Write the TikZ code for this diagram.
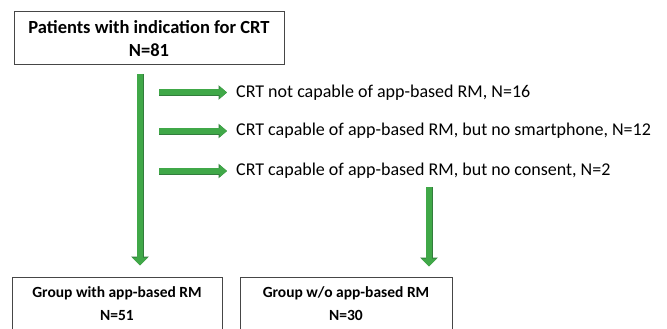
\documentclass[tikz,border=0pt]{standalone}
\usepackage{fontspec}
\setmainfont{Carlito}
\usetikzlibrary{arrows.meta}
\definecolor{arrowgreen}{RGB}{64,168,72}
\definecolor{arrowedge}{RGB}{50,125,60}
\definecolor{boxedge}{RGB}{70,70,70}
\begin{document}
\begin{tikzpicture}[x=1pt,y=-1pt,
  box/.style={draw=boxedge, line width=1pt, align=center, inner sep=0pt},
  titlefont/.style={font=\fontsize{18.5}{22.5}\selectfont\bfseries},
  groupfont/.style={font=\fontsize{15.5}{23}\selectfont\bfseries},
  lbl/.style={anchor=west, font=\fontsize{18}{20}\selectfont, inner sep=0pt},
  vgarrow/.style={draw=arrowgreen, line width=6pt,
    -{Triangle[length=8pt,width=15pt]},
    preaction={draw=arrowedge, line width=7pt, -{Triangle[length=9pt,width=17pt]}}},
  hgarrow/.style={draw=arrowgreen, line width=6pt,
    -{Triangle[length=7.5pt,width=12pt]},
    preaction={draw=arrowedge, line width=7pt, -{Triangle[length=8.5pt,width=14pt]}}}
]
\useasboundingbox (0,0) rectangle (667,329);
\clip (0,0) rectangle (667,329);

\node[box, titlefont, minimum width=270pt, minimum height=53pt] (top) at (149,38.5)
  {Patients with indication for CRT\\N=81};
\node[box, groupfont, minimum width=210pt, minimum height=54pt] (g1) at (117,304)
  {Group with app-based RM\\N=51};
\node[box, groupfont, minimum width=212pt, minimum height=54pt] (g2) at (346,304)
  {Group w/o app-based RM\\N=30};

\node[lbl] (t1) at (236,92.5) {CRT not capable of app-based RM, N=16};
\node[lbl] (t2) at (236,131) {CRT capable of app-based RM, but no smartphone, N=12};
\node[lbl] (t3) at (236,171) {CRT capable of app-based RM, but no consent, N=2};

\coordinate (vs) at (140,74);
\coordinate (h1) at (159,92.5);
\coordinate (h2) at (159,131);
\coordinate (h3) at (159,171);
\coordinate (rv) at (429,187);

\draw[vgarrow, shorten >=11pt] (vs) -- (vs |- g1.north);
\draw[hgarrow, shorten >=9pt] (h1) -- (t1.west);
\draw[hgarrow, shorten >=9pt] (h2) -- (t2.west);
\draw[hgarrow, shorten >=9pt] (h3) -- (t3.west);
\draw[vgarrow, shorten >=10pt] (rv) -- (rv |- g2.north);
\end{tikzpicture}
\end{document}
